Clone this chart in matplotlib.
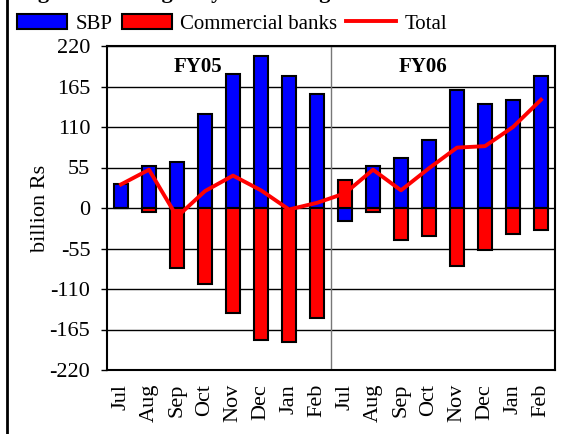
import matplotlib
matplotlib.use("Agg")
import matplotlib.pyplot as plt
import numpy as np
from matplotlib.lines import Line2D

plt.rcParams['font.family'] = ['Liberation Serif', 'DejaVu Serif']
plt.rcParams['axes.unicode_minus'] = False

months = ["Jul", "Aug", "Sep", "Oct", "Nov", "Dec", "Jan", "Feb",
          "Jul", "Aug", "Sep", "Oct", "Nov", "Dec", "Jan", "Feb"]
sbp = [32, 57, 62, 127, 182, 206, 179, 155,
       -17, 57, 68, 92, 160, 141, 147, 179]
commercial = [0, -6, -82, -103, -142, -179, -182, -149,
              38, -6, -44, -38, -79, -57, -35, -30]
total = [32, 52, -12, 23, 44, 24, -2, 7,
         20, 52, 24, 54, 82, 84, 110, 147]
yticks = [-220, -165, -110, -55, 0, 55, 110, 165, 220]
periods = ["FY05", "FY06"]

fig = plt.figure(figsize=(5.73, 4.34), dpi=100)
ax = fig.add_axes([107/573, 1-370/434, 448/573, 324/434])

x = np.arange(len(months))
ax.set_xlim(-0.5, len(months) - 0.5)
ax.set_ylim(-220, 220)
ax.set_yticks(yticks)
ax.set_yticklabels([str(v) for v in yticks])
ax.yaxis.grid(True, color='black', linewidth=1.0)
ax.set_axisbelow(True)

b1 = ax.bar(x, sbp, width=0.48, color='#0000ff', edgecolor='black', linewidth=1.5, zorder=2)
b2 = ax.bar(x, commercial, width=0.48, color='#ff0000', edgecolor='black', linewidth=1.5, zorder=2)
l1, = ax.plot(x, total, color='#ff0000', linewidth=2.8, zorder=3)

ax.axvline(7.5, color='#777777', linewidth=1.0, zorder=1)

ax.text(2.75, 191, periods[0], ha='center', va='center', fontsize=15, fontweight='bold')
ax.text(10.8, 191, periods[1], ha='center', va='center', fontsize=15, fontweight='bold')

ax.set_xticks(x)
ax.set_xticklabels(months, rotation=90, fontsize=16)
ax.tick_params(axis='x', length=0, pad=10)
ax.tick_params(axis='y', length=4, width=1, labelsize=16, pad=8, direction='out')
for s in ax.spines.values():
    s.set_linewidth(1.5)
    s.set_color('black')
ax.set_ylabel("billion Rs", fontsize=16, labelpad=0)

leg = fig.legend([b1, b2, l1], ["SBP", "Commercial banks", "Total"], loc='center',
                 bbox_to_anchor=(0.405, 0.945), ncol=3,
                 frameon=False, fontsize=15, handlelength=2.4, handletextpad=0.4,
                 columnspacing=0.45, borderaxespad=0, borderpad=0)

fig.add_artist(Line2D([7/573, 7/573], [0, 1], transform=fig.transFigure, color='black', linewidth=2))
fig.text(18/573, 1 + 2/434, "Figure 13: Budgetary Borrowings", ha='left', va='baseline',
         fontsize=16, fontweight='bold')

fig.savefig("out.png", dpi=100)
